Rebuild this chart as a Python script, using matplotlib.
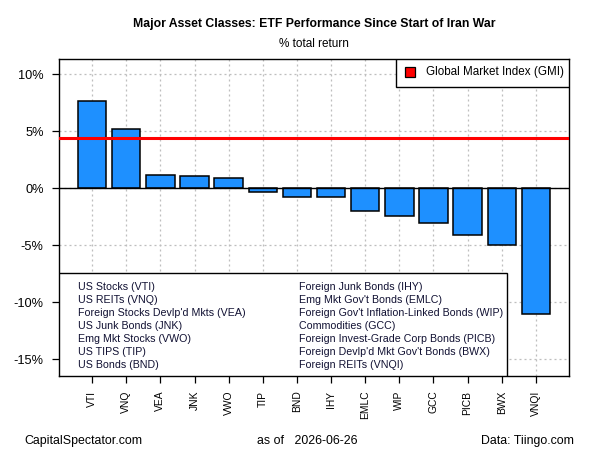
import numpy as np
import matplotlib
matplotlib.use('Agg')
import matplotlib.pyplot as plt
from matplotlib.patches import Rectangle
from matplotlib.ticker import FuncFormatter

plt.rcParams['font.family'] = ['Liberation Sans', 'DejaVu Sans']

# data
tickers = ['VTI', 'VNQ', 'VEA', 'JNK', 'VWO', 'TIP', 'BND', 'IHY',
           'EMLC', 'WIP', 'GCC', 'PICB', 'BWX', 'VNQI']
returns = [7.63, 5.18, 1.14, 1.05, 0.88, -0.35, -0.79, -0.77,
           -2.02, -2.46, -3.07, -4.12, -5.00, -11.05]
gmi = 4.44
names_col1 = ['US Stocks (VTI)', 'US REITs (VNQ)', "Foreign Stocks Devlp'd Mkts (VEA)",
              'US Junk Bonds (JNK)', 'Emg Mkt Stocks (VWO)', 'US TIPS (TIP)', 'US Bonds (BND)']
names_col2 = ['Foreign Junk Bonds (IHY)', "Emg Mkt Gov't Bonds (EMLC)",
              "Foreign Gov't Inflation-Linked Bonds (WIP)", 'Commodities (GCC)',
              'Foreign Invest-Grade Corp Bonds (PICB)', "Foreign Devlp'd Mkt Gov't Bonds (BWX)",
              'Foreign REITs (VNQI)']
yticks = [-15, -10, -5, 0, 5, 10]

# R-style barplot positions (width 1, space 0.2)
x = 0.7 + 1.2 * np.arange(len(tickers))

fig = plt.figure(figsize=(6, 4.5), dpi=100)
ax = fig.add_axes([0.0983, 0.1644, 0.85, 0.7045])

ax.set_xlim(-0.464, 17.464)
ax.set_ylim(-16.46, 11.34)

# grid (dotted, light gray)
grid_ls = (0, (1.6, 2.4))
for xi in x:
    ax.axvline(xi, color='#BEBEBE', lw=0.9, ls=grid_ls, zorder=0)
for yt in yticks:
    ax.axhline(yt, color='#BEBEBE', lw=0.9, ls=grid_ls, zorder=0)

ax.bar(x, returns, width=1.0, color='#1E90FF', edgecolor='black', linewidth=1.1, zorder=2)
ax.axhline(0, color='black', lw=1.0, zorder=3)
ax.axhline(gmi, color='red', lw=2.2, zorder=4)

ax.set_xticks(x)
ax.set_xticklabels(tickers, rotation=90, fontsize=7.4)
ax.set_yticks(yticks)
ax.yaxis.set_major_formatter(FuncFormatter(lambda v, p: f'{v:.0f}%'))
ax.tick_params(axis='y', labelsize=9.2, length=5, width=0.9, pad=6)
ax.tick_params(axis='x', length=5, width=0.9, pad=5.5)
for s in ax.spines.values():
    s.set_linewidth(1.0)

# top-right legend
ax.add_patch(Rectangle((0.660, 0.9117), 0.340, 0.0883, transform=ax.transAxes,
                       facecolor='white', edgecolor='black', lw=1.0, zorder=5))
ax.plot([0.688], [0.959], marker='s', ms=7, mfc='red', mec='black', mew=0.9,
        transform=ax.transAxes, zorder=6, clip_on=False)
ax.text(0.719, 0.959, 'Global Market Index (GMI)', transform=ax.transAxes,
        fontsize=8.4, va='center', ha='left', zorder=6)

# bottom legend with fund names
ax.add_patch(Rectangle((0.0, 0.0), 0.8775, 0.3265, transform=ax.transAxes,
                       facecolor='white', edgecolor='black', lw=1.0, zorder=5))
for i, (a, b) in enumerate(zip(names_col1, names_col2)):
    yy = 0.2817 - i * 0.04133
    ax.text(0.0378, yy, a, transform=ax.transAxes, fontsize=7.7, va='center',
            ha='left', color='#111133', zorder=6)
    ax.text(0.471, yy, b, transform=ax.transAxes, fontsize=7.7, va='center',
            ha='left', color='#111133', zorder=6)

# titles
fig.text(0.523, 0.947, 'Major Asset Classes: ETF Performance Since Start of Iran War',
         ha='center', va='center', fontsize=8.8, fontweight='bold')
fig.text(0.523, 0.902, '% total return', ha='center', va='center', fontsize=8.5)

# footer
fig.text(0.04, 0.02, 'CapitalSpectator.com', ha='left', va='center', fontsize=8.9)
fig.text(0.512, 0.02, 'as of   2026-06-26', ha='center', va='center', fontsize=8.9)
fig.text(0.957, 0.02, 'Data: Tiingo.com', ha='right', va='center', fontsize=8.9)

fig.savefig('out.png', dpi=100)
